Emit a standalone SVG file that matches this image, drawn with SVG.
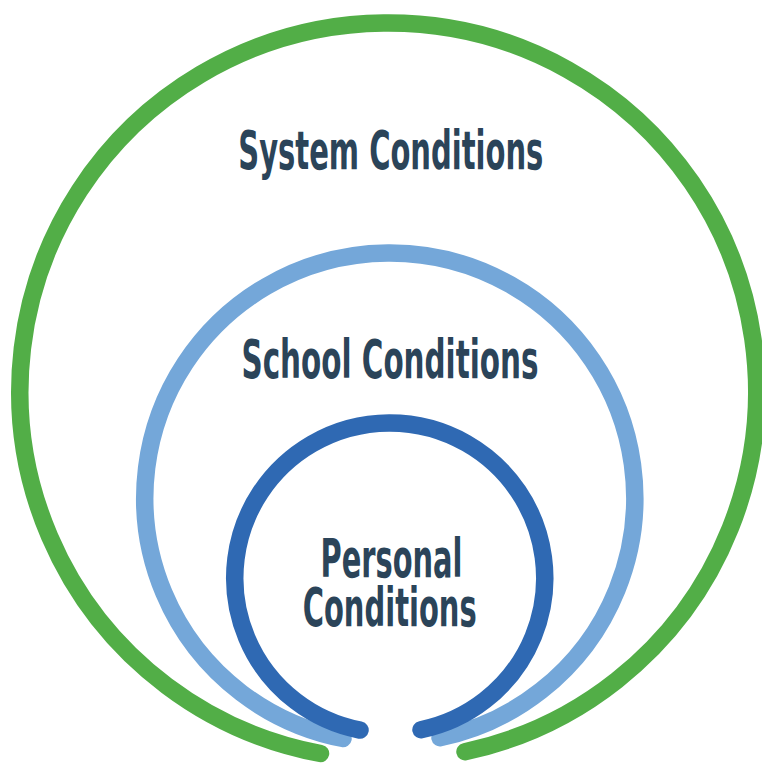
<svg xmlns="http://www.w3.org/2000/svg" width="762" height="763" viewBox="0 0 762 763">
  <style>
    .ring { fill: none; stroke-width: 17.5; stroke-linecap: round; }
    .label { font-family: "Liberation Sans Narrow", "DejaVu Sans Condensed", "Liberation Sans", sans-serif; font-weight: bold; font-size: 53px; fill: #2B4459; text-anchor: middle; }
  </style>
  <rect width="762" height="763" fill="#ffffff"/>

  <g id="system">
    <path class="ring" stroke="#52AE47" d="M320.5,753.5 A368.4,368.4 0 1 1 465,751.7"/>
    <text class="label" x="390.8" y="169" textLength="305" lengthAdjust="spacingAndGlyphs">System Conditions</text>
  </g>

  <g id="school">
    <path class="ring" stroke="#74A7D9" d="M343,738.5 A245,245 0 1 1 440,737.8"/>
    <text class="label" x="390" y="378" textLength="297" lengthAdjust="spacingAndGlyphs">School Conditions</text>
  </g>

  <g id="personal">
    <path class="ring" stroke="#2F69B3" d="M360,730.1 A155,155 0 1 1 421,729.8"/>
    <text class="label" x="391.5" y="577" textLength="142" lengthAdjust="spacingAndGlyphs">Personal</text>
    <text class="label" x="389.7" y="626" textLength="174" lengthAdjust="spacingAndGlyphs">Conditions</text>
  </g>
</svg>
